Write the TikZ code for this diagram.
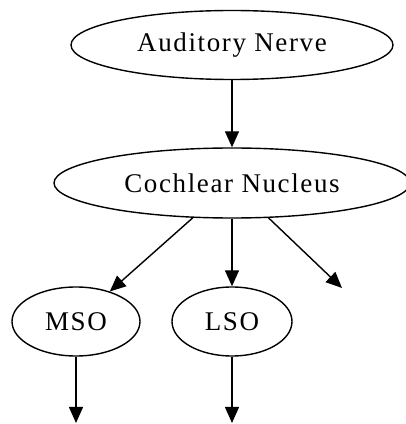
\documentclass[tikz,border=0pt]{standalone}
\usepackage{fontspec}
\setmainfont{Liberation Serif}[LetterSpace=6]
\usetikzlibrary{shapes.geometric,arrows.meta}
\begin{document}
\begin{tikzpicture}[x=1pt,y=1pt,
  every node/.style={ellipse,draw,line width=1.4pt,inner sep=0pt,
    font=\fontsize{27}{32}\selectfont},
  edge/.style={line width=1.4pt,-{Triangle[length=16pt,width=14pt]}}]
\useasboundingbox (0,0) rectangle (406,424);
\node[minimum width=322,minimum height=69] (an) at (232,379) {Auditory Nerve};
\node[minimum width=356,minimum height=70] (cn) at (232,241) {Cochlear Nucleus};
\node[minimum width=128,minimum height=69] (mso) at (76,102.5) {MSO};
\node[minimum width=120,minimum height=69] (lso) at (232,102.5) {LSO};
\coordinate (x3) at (342,136);
\coordinate (x1) at (76,1);
\coordinate (x2) at (232,1);
\draw[edge] (an) -- (cn);
\draw[edge] (cn) -- (mso);
\draw[edge] (cn) -- (lso);
\draw[edge] (cn) -- (x3);
\draw[edge] (mso) -- (x1);
\draw[edge] (lso) -- (x2);
\end{tikzpicture}
\end{document}
